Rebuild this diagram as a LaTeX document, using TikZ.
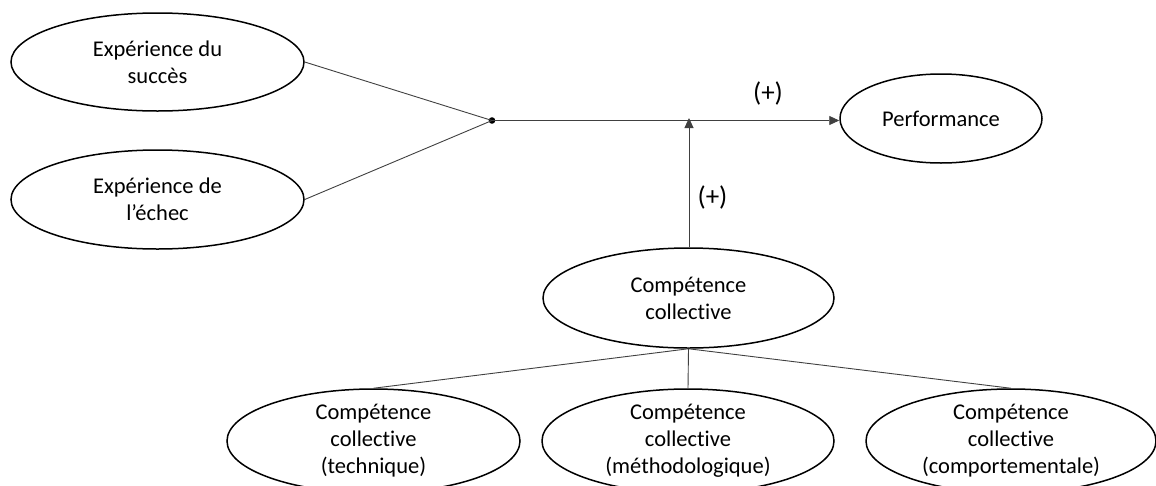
\documentclass[tikz,border=0pt]{standalone}
\usepackage{fontspec}
\setmainfont{Carlito}[Ligatures=NoCommon]
\usetikzlibrary{shapes.geometric,arrows.meta}
\begin{document}
\begin{tikzpicture}[x=1pt,y=-1pt,
  oval/.style={ellipse, draw=black, line width=1.5pt, inner sep=0pt,
    align=center, font=\fontsize{22.5}{27}\selectfont},
  conn/.style={draw=black!75, line width=0.9pt},
  arr/.style={conn, -{Triangle[length=10pt,width=9pt]}},
  plus/.style={font=\fontsize{27}{30}\selectfont}]
\useasboundingbox (0,0) rectangle (1156,485);
\clip (0,0) rectangle (1156,485);
\node[oval, minimum width=293pt, minimum height=98pt] (succ) at (157.5,62) {Expérience du\\succès};
\node[oval, minimum width=293pt, minimum height=99pt] (echec) at (157.5,199.5) {Expérience de\\l’échec};
\node[oval, minimum width=202pt, minimum height=89pt] (perf) at (941,118.5) {Performance};
\node[oval, minimum width=291pt, minimum height=100pt] (cc) at (688.5,298) {Compétence\\collective};
\node[oval, minimum width=293pt, minimum height=104pt] (tech) at (373.5,441) {Compétence\\collective\\(technique)};
\node[oval, minimum width=292pt, minimum height=104pt] (meth) at (688,441) {Compétence\\collective\\(méthodologique)};
\node[oval, minimum width=290pt, minimum height=104pt] (comp) at (1011,441) {Compétence\\collective\\(comportementale)};
\coordinate (dot) at (492,120.5);
\fill (dot) circle (3.3pt);
\coordinate (mod) at (689,120.5);
\draw[conn] (succ.east) -- (dot);
\draw[conn] (echec.east) -- (dot);
\draw[arr] (dot) -- (perf.west |- dot);
\draw[arr] (cc.north -| mod) -- ([yshift=2.5pt]mod);
\node[plus] (p1) at (768,93) {(+)};
\node[plus] (p2) at (712.5,197) {(+)};
\draw[conn] (cc.south) -- (tech.north);
\draw[conn] (cc.south) -- (meth.north);
\draw[conn] (cc.south) -- (comp.north);
\end{tikzpicture}
\end{document}
